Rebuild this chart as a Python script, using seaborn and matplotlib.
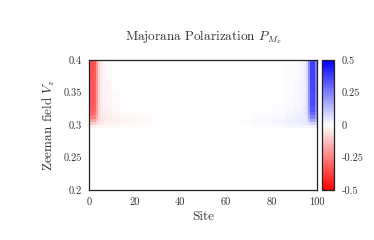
import numpy as np
import pandas as pd
import seaborn as sns
import matplotlib
matplotlib.use("Agg")
import matplotlib.pyplot as plt

# Data
n_sites = 100
field_step = 0.005
field_min, field_max = 0.2, 0.4

# row bins of the Zeeman field, from bottom (0.2) to top (0.4), in units of field_step
row_heights = [19, 1, 1, 1, 1, 1, 2, 4, 4, 4, 2]

# left edge site bins: 1,2,3,4,5,6,7-8,9-10,11-14,15-20,21-28,29-36
left_widths = [1, 1, 1, 1, 1, 1, 2, 2, 4, 6, 8, 8]
left_values = [
    [0, 0, 0, 0, 0, 0, 0, 0, 0, 0, 0, 0],
    [-0.03, -0.03, -0.03, -0.025, -0.02, -0.02, -0.018, -0.016, -0.014, -0.01, -0.006, -0.003],
    [-0.10, -0.10, -0.09, -0.07, -0.05, -0.04, -0.035, -0.03, -0.025, -0.018, -0.01, -0.005],
    [-0.18, -0.18, -0.17, -0.12, -0.07, -0.05, -0.04, -0.035, -0.03, -0.02, -0.012, -0.005],
    [-0.25, -0.26, -0.24, -0.16, -0.08, -0.05, -0.04, -0.03, -0.025, -0.015, -0.008, -0.003],
    [-0.29, -0.30, -0.28, -0.18, -0.08, -0.05, -0.035, -0.025, -0.018, -0.01, -0.004, 0],
    [-0.31, -0.32, -0.30, -0.19, -0.08, -0.045, -0.03, -0.02, -0.012, -0.006, 0, 0],
    [-0.32, -0.33, -0.31, -0.20, -0.08, -0.04, -0.025, -0.015, -0.008, -0.003, 0, 0],
    [-0.32, -0.33, -0.31, -0.20, -0.08, -0.04, -0.022, -0.012, -0.006, 0, 0, 0],
    [-0.33, -0.34, -0.32, -0.20, -0.08, -0.04, -0.02, -0.01, -0.005, 0, 0, 0],
    [-0.33, -0.34, -0.32, -0.20, -0.08, -0.04, -0.02, -0.01, -0.005, 0, 0, 0],
]

# right edge site bins: 65-72,73-80,81-86,87-90,91-92,93-94,95,96,97,98,99,100
right_widths = [8, 8, 6, 4, 2, 2, 1, 1, 1, 1, 1, 1]
right_values = [
    [0, 0, 0, 0, 0, 0, 0, 0, 0, 0, 0, 0],
    [0.003, 0.006, 0.01, 0.014, 0.016, 0.018, 0.02, 0.02, 0.025, 0.03, 0.03, 0.03],
    [0.005, 0.01, 0.018, 0.025, 0.03, 0.035, 0.04, 0.045, 0.06, 0.08, 0.09, 0.07],
    [0.005, 0.012, 0.02, 0.03, 0.035, 0.04, 0.045, 0.06, 0.11, 0.17, 0.18, 0.13],
    [0.003, 0.008, 0.015, 0.025, 0.03, 0.035, 0.045, 0.06, 0.16, 0.25, 0.26, 0.18],
    [0, 0.004, 0.01, 0.018, 0.025, 0.03, 0.04, 0.07, 0.19, 0.30, 0.31, 0.21],
    [0, 0, 0.006, 0.012, 0.02, 0.025, 0.04, 0.07, 0.21, 0.33, 0.34, 0.23],
    [0, 0, 0.003, 0.008, 0.015, 0.022, 0.035, 0.07, 0.22, 0.35, 0.36, 0.24],
    [0, 0, 0.002, 0.006, 0.012, 0.02, 0.035, 0.07, 0.22, 0.36, 0.37, 0.25],
    [0, 0, 0, 0.005, 0.01, 0.018, 0.035, 0.07, 0.23, 0.37, 0.38, 0.25],
    [0, 0, 0, 0.005, 0.01, 0.018, 0.035, 0.07, 0.23, 0.37, 0.38, 0.25],
]

x_ticks = [0, 20, 40, 60, 80, 100]
y_ticks = [0.2, 0.25, 0.3, 0.35, 0.4]
y_tick_labels = ["0.2", "0.25", "0.3", "0.35", "0.4"]
cbar_ticks = [-0.5, -0.25, 0, 0.25, 0.5]
cbar_tick_labels = ["-0.5", "-0.25", "0", "0.25", "0.5"]

# build the site x field table
left = np.repeat(np.array(left_values), left_widths, axis=1)
right = np.repeat(np.array(right_values), right_widths, axis=1)
middle = np.zeros((len(row_heights), n_sites - left.shape[1] - right.shape[1]))
grid = np.hstack([left, middle, right])
grid = np.repeat(grid, row_heights, axis=0)[::-1]  # top row = 0.4

n_rows = grid.shape[0]
field_edges = np.linspace(field_max, field_min, n_rows + 1)
df = pd.DataFrame(grid, columns=np.arange(1, n_sites + 1))

# style
sns.set_style("white")
plt.rcParams["font.family"] = ["cmr10", "DejaVu Serif"]
plt.rcParams["mathtext.fontset"] = "cm"
plt.rcParams["axes.unicode_minus"] = False

fig = plt.figure(figsize=(3.74, 2.40), dpi=100)
ax = fig.add_axes([0.238, 0.208, 0.610, 0.542])
cax = fig.add_axes([0.862, 0.208, 0.030, 0.542])

sns.heatmap(df, ax=ax, cbar_ax=cax, cmap="bwr_r", vmin=-0.5, vmax=0.5,
            xticklabels=False, yticklabels=False)

ink = "#333333"
for sp in ax.spines.values():
    sp.set_visible(True)
    sp.set_linewidth(0.9)
    sp.set_color("#222222")

ax.set_xticks(x_ticks)
ax.set_xticklabels([str(t) for t in x_ticks])
ypos = np.interp(y_ticks, field_edges[::-1], np.arange(n_rows + 1)[::-1])
ax.set_yticks(ypos)
ax.set_yticklabels(y_tick_labels, rotation=0)
ax.tick_params(direction="in", length=3, width=0.8, top=True, right=True,
               labelsize=7.5, labelcolor=ink, color="#222222", pad=5)

ax.set_xlabel("Site", fontsize=9.5, color=ink, labelpad=3)
ax.set_ylabel("Zeeman field $V_z$", fontsize=9.5, color=ink, labelpad=5)
ax.set_title("Majorana Polarization $P_{M_x}$", fontsize=9.5, color=ink, pad=14)

cbar = ax.collections[0].colorbar
cbar.set_ticks(cbar_ticks)
cbar.set_ticklabels(cbar_tick_labels)
cbar.outline.set_visible(True)
cbar.outline.set_linewidth(0.9)
cbar.outline.set_edgecolor("#222222")
cax.tick_params(direction="in", length=3, width=0.8, left=True, right=True,
                labelsize=7.5, labelcolor=ink, color="#222222", pad=6)

fig.savefig("out.png", dpi=100)
